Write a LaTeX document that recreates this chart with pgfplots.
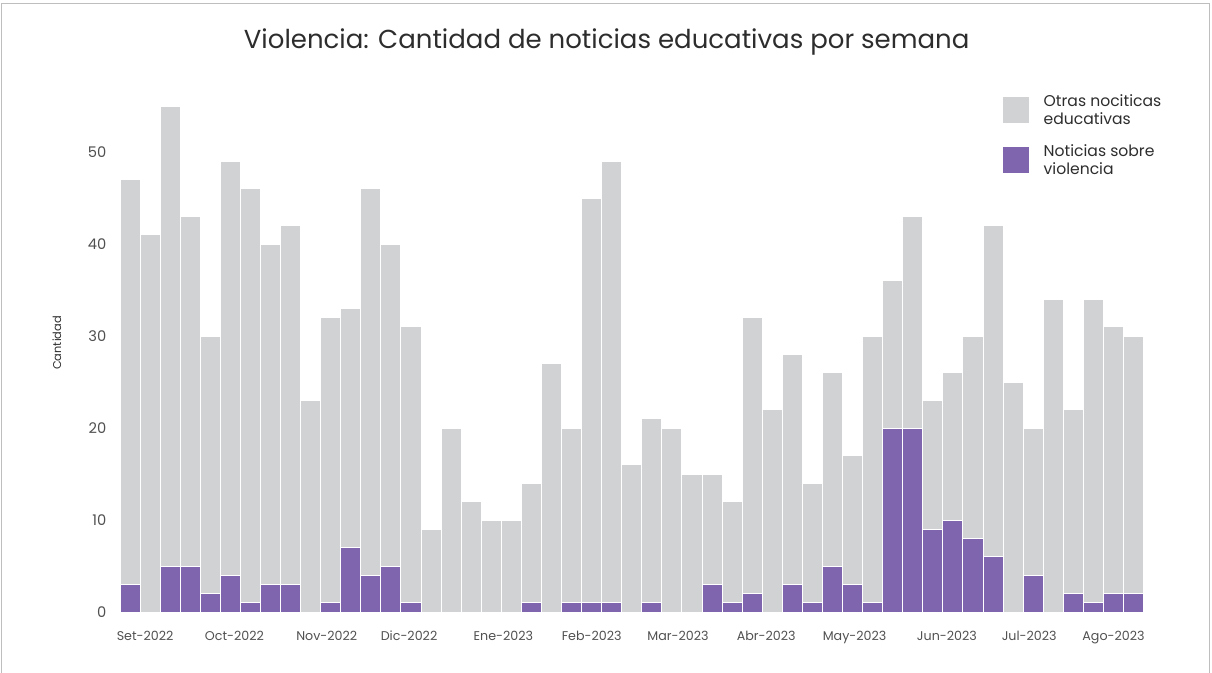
\documentclass[border=0pt]{standalone}
\usepackage{pgfplots}
\usepackage{pgfplotstable}
\pgfplotsset{compat=1.18}
\usepackage{fontspec}
\setmainfont{Poppins}
\definecolor{grisbar}{RGB}{209,210,212}
\definecolor{morado}{RGB}{127,101,173}
\definecolor{texto}{RGB}{45,45,45}
\definecolor{ticktxt}{RGB}{80,80,80}
\definecolor{marco}{RGB}{190,190,190}
\pgfplotstableread{
x otras vio
0 44 3
1 41 0
2 50 5
3 38 5
4 28 2
5 45 4
6 45 1
7 37 3
8 39 3
9 23 0
10 31 1
11 26 7
12 42 4
13 35 5
14 30 1
15 9 0
16 20 0
17 12 0
18 10 0
19 10 0
20 13 1
21 27 0
22 19 1
23 44 1
24 48 1
25 16 0
26 20 1
27 20 0
28 15 0
29 12 3
30 11 1
31 30 2
32 22 0
33 25 3
34 13 1
35 21 5
36 14 3
37 29 1
38 16 20
39 23 20
40 14 9
41 16 10
42 22 8
43 36 6
44 25 0
45 16 4
46 34 0
47 20 2
48 33 1
49 29 2
50 28 2
}\datos
\begin{document}
\begin{tikzpicture}
\useasboundingbox (0,0) rectangle (909pt,-504.75pt);
\draw[marco, line width=0.75pt] (0.75pt,-510pt) -- (0.75pt,-2.6pt) -- (907pt,-2.6pt) -- (907pt,-510pt);
\node[texto, font=\fontsize{19.5}{22}\selectfont, anchor=center] at (455pt,-31.5pt) {Violencia: Cantidad de noticias educativas por semana};
\begin{axis}[
  at={(88.5pt,-459pt)}, anchor=south west,
  scale only axis, width=770.7pt, height=393.3pt,
  xmin=-0.6, xmax=50.6, ymin=0, ymax=57,
  ybar stacked, bar width=1,
  axis line style={draw=none}, tick style={draw=none},
  xtick={0.75,5.2,9.8,13.9,18.6,23.0,27.3,31.7,36.1,40.7,44.8,49.0},
  xticklabels={Set-2022,Oct-2022,Nov-2022,Dic-2022,Ene-2023,Feb-2023,Mar-2023,Abr-2023,May-2023,Jun-2023,Jul-2023,Ago-2023},
  ytick={0,10,20,30,40,50},
  /pgf/number format/assume math mode=true,
  xticklabel style={font=\fontsize{9.5}{11}\selectfont, text=ticktxt, yshift=-10.5pt},
  yticklabel style={font=\fontsize{11}{13}\selectfont, text=ticktxt, xshift=-5.25pt},
  ylabel={Cantidad},
  ylabel style={at={(axis description cs:-0.0594,0.513)}, anchor=center, font=\fontsize{8.5}{10}\selectfont, text=texto},
  legend style={at={(axis description cs:0.861,0.9926)}, anchor=north west, draw=none, fill=none,
    inner sep=0pt, font=\fontsize{11.7}{13.5}\selectfont, text=texto, row sep=9.5pt, column sep=9pt,
    cells={align=left}},
  legend cell align=left,
  reverse legend,
  legend image code/.code={\fill[#1, draw=none] (0pt,-9.75pt) rectangle (19.5pt,9.75pt);},
]
\addplot[fill=morado, draw=white, line width=0.75pt] table[x=x, y=vio] {\datos};
\addlegendentry{Noticias sobre\\violencia}
\addplot[fill=grisbar, draw=white, line width=0.75pt] table[x=x, y=otras] {\datos};
\addlegendentry{Otras nociticas\\educativas}
\end{axis}
\end{tikzpicture}
\end{document}
